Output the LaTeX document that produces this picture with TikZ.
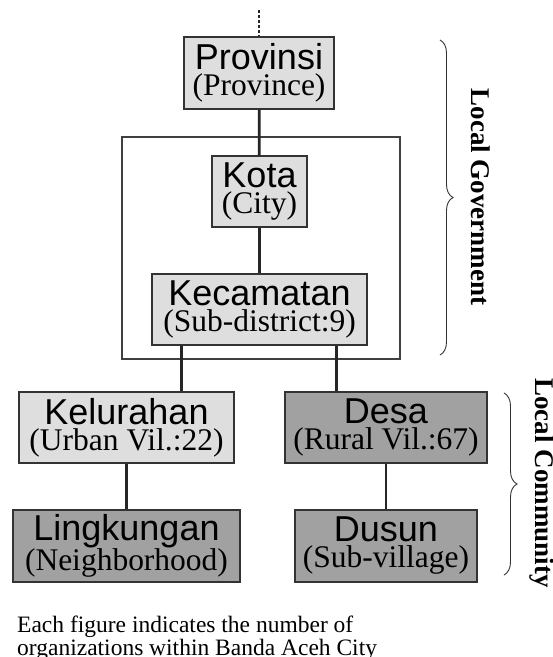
\documentclass[tikz,border=0pt]{standalone}
\usepackage{fontspec}
\setmainfont{Liberation Serif}
\setsansfont{Liberation Sans}
\usepackage{tikz}
\usetikzlibrary{positioning,decorations.pathreplacing}

\definecolor{lightfill}{gray}{0.87}
\definecolor{darkfill}{gray}{0.63}

\begin{document}
\begin{tikzpicture}[x=1pt, y=-1pt,
    box/.style={draw=black!80, line width=1.5pt, inner sep=0pt, align=center, font=\fontsize{31.5}{26}\selectfont},
    lbox/.style={box, fill=lightfill},
    dbox/.style={box, fill=darkfill},
    conn/.style={line width=2.8pt, black!85},
    frame/.style={draw=black!75, line width=1.3pt},
    brace/.style={decorate, decoration={brace, amplitude=13pt}, line width=0.9pt, black!80},
    side/.style={font=\bfseries\fontsize{27}{27}\selectfont, inner sep=0pt}
]
\useasboundingbox (0,0) rectangle (553,657);
\newcommand{\ttl}[1]{{\sffamily\fontsize{36}{26}\selectfont #1}}

\draw[frame] (122,137) rectangle (400,359);

\node[lbox, minimum width=150pt, minimum height=72pt] (prov) at (259,73) {\ttl{Provinsi}\\(Province)};
\node[lbox, minimum width=95pt, minimum height=71pt] (kota) at (259.5,191.5) {\ttl{Kota}\\(City)};
\node[lbox, minimum width=215pt, minimum height=71pt] (kec) at (259.5,309.5) {\ttl{Kecamatan}\\(Sub-district:9)};
\node[lbox, minimum width=215pt, minimum height=71pt] (kel) at (126.5,427.5) {\ttl{Kelurahan}\\(Urban Vil.:22)};
\node[dbox, minimum width=202pt, minimum height=71pt] (desa) at (386,427.5) {\ttl{Desa}\\(Rural Vil.:67)};
\node[dbox, minimum width=227pt, minimum height=72pt] (ling) at (126.5,546) {\ttl{Lingkungan}\\(Neighborhood)};
\node[dbox, minimum width=182pt, minimum height=72pt] (dusun) at (386,546) {\ttl{Dusun}\\(Sub-village)};

\coordinate (up) at (259,10);
\draw[line width=2.6pt, black!85, dash pattern=on 2.6pt off 2.4pt] (up) -- (prov.north);
\draw[conn] (prov) -- (kota);
\draw[conn] (kota) -- (kec);
\draw[conn] ([xshift=30pt]kec.south west) -- ([xshift=30pt]kec.south west |- kel.north);
\draw[conn] ([xshift=-31pt]kec.south east) -- ([xshift=-31pt]kec.south east |- desa.north);
\draw[conn] (kel) -- (ling);
\draw[conn] (desa) -- (dusun);

\draw[brace] (440,40) -- (440,355);
\node[side, rotate=-90] (gov) at (481,197) {Local Government};
\draw[brace] (504,393) -- (504,575);
\node[side, rotate=-90] (comm) at (542,483) {Local Community};

\node[anchor=north west, align=left, inner sep=0pt, font=\fontsize{23.5}{18}\selectfont] (note) at (17,616)
    {Each figure indicates the number of\\organizations within Banda Aceh City};
\end{tikzpicture}
\end{document}
